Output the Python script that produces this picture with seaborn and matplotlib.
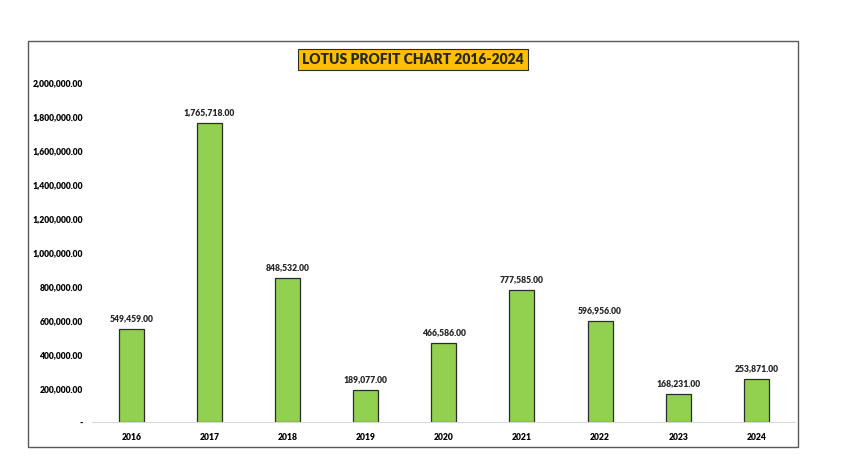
import numpy as np
import pandas as pd
import seaborn as sns
import matplotlib.pyplot as plt
from matplotlib.patches import Rectangle
from matplotlib.ticker import FuncFormatter

# Chart data
years = ["2016", "2017", "2018", "2019", "2020", "2021", "2022", "2023", "2024"]
profit = [549459.00, 1765718.00, 848532.00, 189077.00, 466586.00,
          777585.00, 596956.00, 168231.00, 253871.00]

df = pd.DataFrame({"Year": years, "Profit": profit})

sns.set_theme(style="white")
plt.rcParams["font.family"] = ["Lato", "DejaVu Sans"]

fig = plt.figure(figsize=(8.47, 4.76), dpi=100)
ax = fig.add_axes([0.109, 0.113, 0.830, 0.713])

sns.barplot(data=df, x="Year", y="Profit", color="#92D050", width=0.32,
            edgecolor="#2b2b2b", linewidth=0.9, saturation=1, ax=ax)

ax.set_ylim(0, 2000000)
ax.set_xlim(-0.5, len(years) - 0.5)
ax.set_yticks(np.arange(0, 2000001, 200000))
ax.yaxis.set_major_formatter(FuncFormatter(lambda v, p: "-" if v == 0 else f"{v:,.2f}"))
ax.set_xlabel("")
ax.set_ylabel("")
for s in ["top", "right", "left"]:
    ax.spines[s].set_visible(False)
ax.spines["bottom"].set_color("#d9d9d9")
ax.spines["bottom"].set_linewidth(0.8)
ax.tick_params(axis="both", length=0, labelsize=6.2, colors="black")
ax.tick_params(axis="y", pad=7)
ax.tick_params(axis="x", pad=8)
for lbl in ax.get_xticklabels() + ax.get_yticklabels():
    lbl.set_fontweight("heavy")

for i, v in enumerate(profit):
    ax.text(i, v + 35000, f"{v:,.2f}", ha="center", va="bottom",
            fontsize=6.2, fontweight="heavy")

# outer chart frame
fig.patches.append(Rectangle((0.033, 0.061), 0.909, 0.853, transform=fig.transFigure,
                             fill=False, edgecolor="#595959", linewidth=1.0))

fig.text(0.488, 0.875, "LOTUS PROFIT CHART 2016-2024", ha="center", va="center",
         fontsize=10, fontweight="heavy",
         bbox=dict(boxstyle="square,pad=0.3", facecolor="#FFC000", edgecolor="#2b2b2b", linewidth=0.8))

fig.savefig("out.png", dpi=100, facecolor="white")
